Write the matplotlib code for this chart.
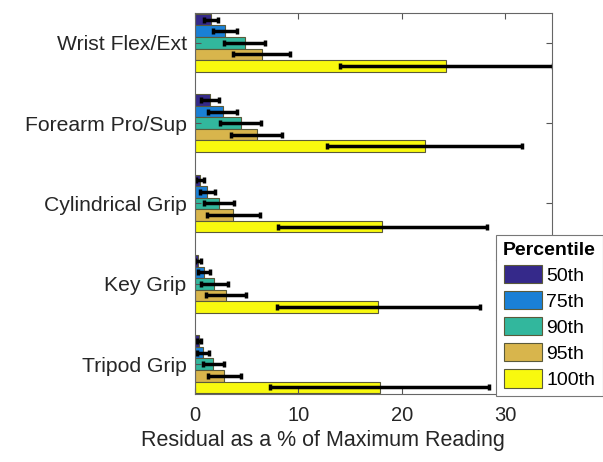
import numpy as np
import matplotlib.pyplot as plt
from matplotlib.lines import Line2D

plt.rcParams['font.family'] = ['Liberation Sans', 'DejaVu Sans']

categories = ['Wrist Flex/Ext', 'Forearm Pro/Sup', 'Cylindrical Grip', 'Key Grip', 'Tripod Grip']
percentiles = ['50th', '75th', '90th', '95th', '100th']

# rows = percentile, cols = category
means = [
    [1.55, 1.45, 0.48, 0.30, 0.38],
    [2.90, 2.67, 1.19, 0.85, 0.80],
    [4.80, 4.40, 2.35, 1.88, 1.76],
    [6.43, 5.95, 3.70, 2.99, 2.83],
    [24.27, 22.20, 18.10, 17.70, 17.85],
]
errs = [
    [0.70, 0.88, 0.43, 0.30, 0.22],
    [1.20, 1.40, 0.75, 0.60, 0.60],
    [1.96, 2.00, 1.46, 1.32, 1.00],
    [2.73, 2.50, 2.57, 1.96, 1.62],
    [10.30, 9.45, 10.10, 9.80, 10.60],
]
colors = ['#35298a', '#1a80d6', '#32b79d', '#d8b54c', '#f8f90e']

fig = plt.figure(figsize=(6.03, 4.62), dpi=100)
ax = fig.add_axes([0.3234, 0.1472, 0.5920, 0.8247])

y = np.arange(1, len(categories) + 1)
h = 0.144
for i, (p, c) in enumerate(zip(percentiles, colors)):
    yy = y + (i - 2) * h
    ax.barh(yy, means[i], height=h, color=c, edgecolor='#5a5a3a', linewidth=0.8, label=p)
    ax.errorbar(means[i], yy, xerr=errs[i], fmt='none', ecolor='black',
                elinewidth=2.5, capsize=2.5, capthick=2.5, clip_on=True)

ax.set_xlim(0, 34.5)
ax.set_ylim(5.37, 0.63)
ax.set_yticks(y)
ax.set_yticklabels(categories, fontsize=15.2, color='#262626')
ax.set_xticks([0, 10, 20, 30])
ax.tick_params(axis='x', labelsize=14.5, colors='#262626', pad=9)
ax.tick_params(direction='in', top=True, right=True, length=4, color='#555555')
ax.tick_params(axis='y', pad=6)
for s in ax.spines.values():
    s.set_color('#666666')
    s.set_linewidth(0.8)
ax.set_xlabel('Residual as a % of Maximum Reading', fontsize=15.5, color='#262626')
ax.xaxis.set_label_coords(0.358, -0.095)

leg = fig.legend(loc='lower left', bbox_to_anchor=(0.823, 0.143), fontsize=14,
                 title='Percentile', title_fontproperties={'weight': 'bold', 'size': 14},
                 fancybox=False, framealpha=1, edgecolor='#777777',
                 handlelength=1.95, handleheight=1.05, handletextpad=0.25,
                 labelspacing=0.33, borderpad=0.35, borderaxespad=0)
leg.get_frame().set_linewidth(0.8)

fig.add_artist(Line2D([0.823, 0.997], [1 - 260 / 462, 1 - 260 / 462],
                      color='#777777', linewidth=0.8, transform=fig.transFigure))

fig.savefig('out.png', dpi=100)
